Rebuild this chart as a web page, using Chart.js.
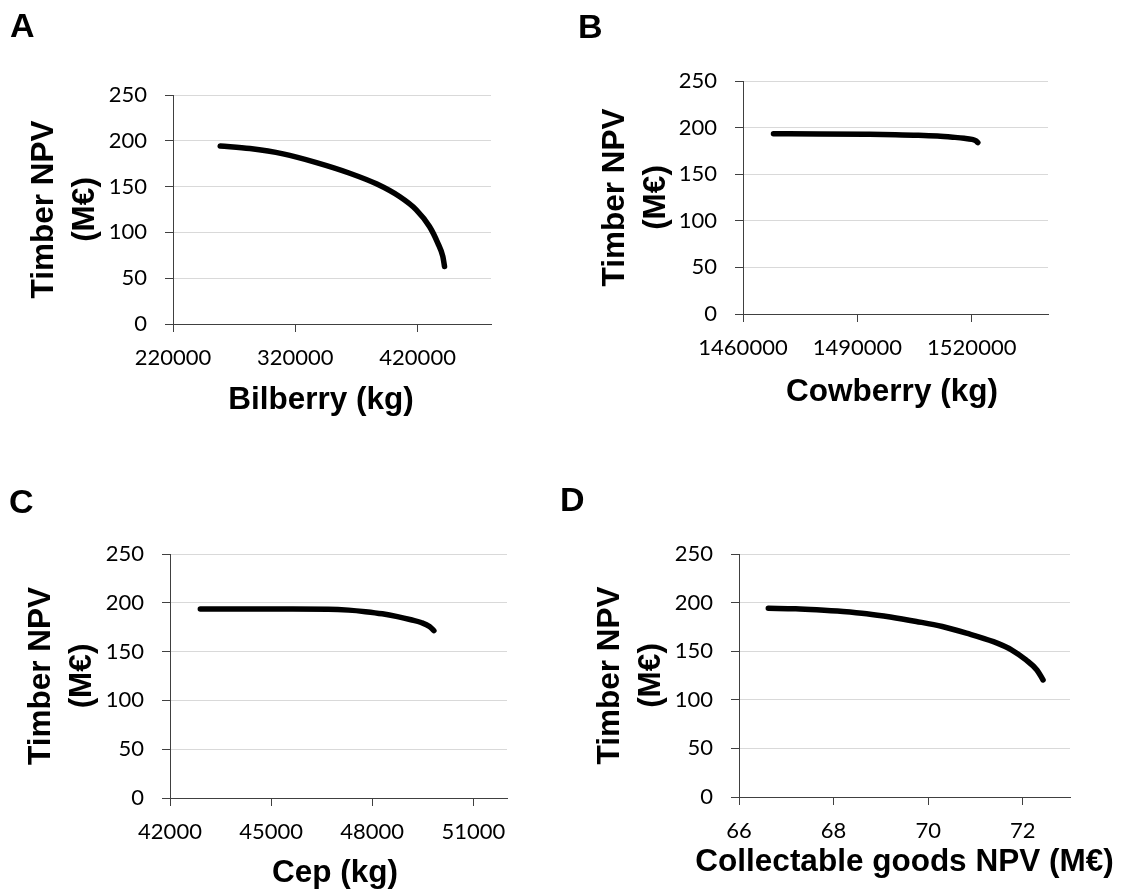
<!DOCTYPE html>
<html>
<head>
<meta charset="utf-8">
<script src="https://cdn.jsdelivr.net/npm/chart.js@4/dist/chart.umd.min.js"></script>
<style>
  body { margin: 0; background: #fff; }
  #page { position: relative; width: 1124px; height: 893px; overflow: hidden; background: #fff; }
  #page canvas { position: absolute; }
  .panel-letter { position: absolute; font: bold 34px "Liberation Sans", Arial, sans-serif; line-height: 34px; color: #000; }
</style>
</head>
<body>
<div id="page">
  <canvas id="chart-a" width="562" height="446" style="left:0;top:0"></canvas>
  <canvas id="chart-b" width="562" height="446" style="left:562px;top:0"></canvas>
  <canvas id="chart-c" width="562" height="447" style="left:0;top:446px"></canvas>
  <canvas id="chart-d" width="562" height="447" style="left:562px;top:446px"></canvas>
  <div class="panel-letter" style="left:10px;top:8px">A</div>
  <div class="panel-letter" style="left:578px;top:9px">B</div>
  <div class="panel-letter" style="left:9px;top:484px">C</div>
  <div class="panel-letter" style="left:560px;top:482px">D</div>
</div>
<script>
// y axis is the same on every panel
const npvTicks = [0, 50, 100, 150, 200, 250];

// A - bilberry
const bilberryKg = [258600, 282900, 310000, 337300, 364500, 386300, 405200, 418900, 429700, 436500, 440600, 442000];
const bilberryNpv = [194.4, 191.5, 185.7, 176.2, 164.6, 153.0, 139.1, 124.6, 106.4, 88.3, 73.7, 62.8];
const bilberryTicks = [220000, 320000, 420000];

// B - cowberry
const cowberryKg = [1468000, 1480000, 1492000, 1500000, 1506000, 1511000, 1515000, 1518000, 1520000, 1521000, 1521600];
const cowberryNpv = [193.4, 193.2, 192.8, 192.4, 191.8, 190.9, 189.7, 188.6, 187.4, 186.0, 184.0];
const cowberryTicks = [1460000, 1490000, 1520000];

// C - cep
const cepKg = [42900, 44000, 45300, 46700, 47300, 47800, 48300, 48750, 49150, 49450, 49700, 49830];
const cepNpv = [193.7, 193.7, 193.6, 193.4, 192.5, 190.9, 188.7, 185.8, 182.6, 179.8, 175.8, 171.5];
const cepTicks = [42000, 45000, 48000, 51000];

// D - all collectable goods
const goodsNpv = [66.62, 67.2, 67.64, 68.2, 68.7, 69.2, 69.75, 70.3, 70.81, 71.38, 71.77, 72.07, 72.30, 72.43];
const goodsTimberNpv = [194.1, 193.7, 192.7, 190.9, 188.6, 185.2, 180.6, 175.4, 168.6, 159.8, 151.2, 141.0, 130.7, 120.4];
const goodsTicks = [66, 68, 70, 72];

const axisColor = '#404040';
const gridColor = '#d9d9d9';
const tickFont = { family: 'Lato', size: 22 };
const titleFont = { family: '"Liberation Sans", Arial, sans-serif', size: 31.5, weight: 'bold', lineHeight: 1.3 };

// x titles drawn by hand: the built-in one squeezes long text to the axis width
const xTitlePlugin = {
  id: 'xTitle',
  afterDraw(chart, args, o) {
    const ctx = chart.ctx;
    ctx.save();
    ctx.font = 'bold ' + titleFont.size + 'px ' + titleFont.family;
    ctx.fillStyle = '#000';
    ctx.textAlign = 'center';
    ctx.textBaseline = 'middle';
    ctx.fillText(o.text, o.x, o.y);
    ctx.restore();
  }
};

function makePanel(id, opts) {
  const points = opts.xs.map((x, i) => ({ x: x, y: opts.ys[i] }));

  return new Chart(document.getElementById(id), {
    type: 'scatter',
    plugins: [xTitlePlugin],
    data: {
      datasets: [{
        data: points,
        showLine: true,
        borderColor: '#000',
        borderWidth: 5.5,
        pointRadius: 0,
        tension: 0.4,
        cubicInterpolationMode: 'monotone',
        borderCapStyle: 'round',
        borderJoinStyle: 'round'
      }]
    },
    options: {
      responsive: false,
      animation: false,
      devicePixelRatio: 1,
      layout: { padding: { top: opts.top, right: opts.right, left: 0, bottom: 0 } },
      plugins: {
        legend: { display: false },
        tooltip: { enabled: false },
        xTitle: { text: opts.xTitle, x: opts.xTitleX, y: opts.xTitleY }
      },
      scales: {
        x: {
          type: 'linear',
          min: opts.xMin,
          max: opts.xMax,
          afterBuildTicks: (scale) => { scale.ticks = opts.xTicks.map(v => ({ value: v })); },
          afterFit: (scale) => { scale.height = opts.xHeight; },
          grid: { drawOnChartArea: false, tickLength: 8, tickColor: axisColor },
          border: { color: axisColor, width: 1 },
          ticks: { font: tickFont, color: '#000', padding: 13, maxRotation: 0, autoSkip: false, callback: (v) => String(v) }
        },
        y: {
          min: 0,
          max: 250,
          afterBuildTicks: (scale) => { scale.ticks = npvTicks.map(v => ({ value: v })); },
          afterFit: (scale) => { scale.width = opts.yWidth; },
          grid: {
            color: (c) => (c.tick && c.tick.value === 0 ? axisColor : gridColor),
            tickLength: 8,
            tickColor: axisColor
          },
          border: { color: axisColor, width: 1 },
          ticks: { font: tickFont, color: '#000', padding: 18, callback: (v) => String(v) },
          title: { display: true, text: ['Timber NPV', '(M€)'], font: titleFont, color: '#000', padding: { top: opts.yTitlePad, bottom: 0 } }
        }
      }
    }
  });
}

makePanel('chart-a', {
  xs: bilberryKg, ys: bilberryNpv, xTicks: bilberryTicks, xMin: 220000, xMax: 480000,
  xTitle: 'Bilberry (kg)', xTitleX: 321, xTitleY: 400,
  top: 95, right: 71, yWidth: 173, xHeight: 122, yTitlePad: 23.5
});

makePanel('chart-b', {
  xs: cowberryKg, ys: cowberryNpv, xTicks: cowberryTicks, xMin: 1460000, xMax: 1540000,
  xTitle: 'Cowberry (kg)', xTitleX: 330, xTitleY: 392,
  top: 81, right: 76, yWidth: 181, xHeight: 132, yTitlePad: 32.5
});

makePanel('chart-c', {
  xs: cepKg, ys: cepNpv, xTicks: cepTicks, xMin: 42000, xMax: 52000,
  xTitle: 'Cep (kg)', xTitleX: 335, xTitleY: 427,
  top: 108, right: 55, yWidth: 170, xHeight: 95, yTitlePad: 20.5
});

makePanel('chart-d', {
  xs: goodsNpv, ys: goodsTimberNpv, xTicks: goodsTicks, xMin: 66, xMax: 73,
  xTitle: 'Collectable goods NPV (M€)', xTitleX: 342.5, xTitleY: 416,
  top: 108, right: 54, yWidth: 177, xHeight: 96, yTitlePad: 27.5
});
</script>
</body>
</html>
